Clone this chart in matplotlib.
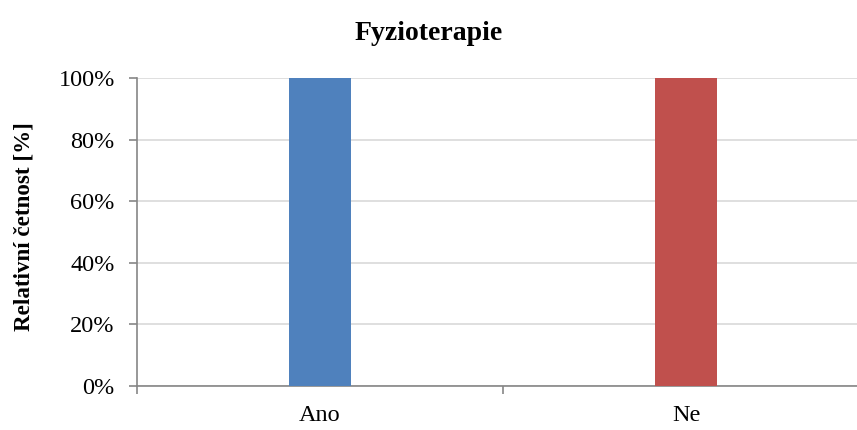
import matplotlib
matplotlib.use("Agg")
import matplotlib.pyplot as plt
from matplotlib.ticker import FixedLocator, PercentFormatter

categories = ["Ano", "Ne"]
values = [100, 100]
colors = ["#4F81BD", "#C0504D"]
yticks = [0, 20, 40, 60, 80, 100]

plt.rcParams['font.family'] = ['Liberation Serif', 'DejaVu Serif']

fig = plt.figure(figsize=(8.57, 4.30), dpi=100)
ax = fig.add_axes([137/857, 44/430, 732/857, 308/430])

x = list(range(len(categories)))
ax.bar(x, values, width=0.17, color=colors, zorder=3)
ax.set_xlim(-0.5, len(categories) - 0.5)
ax.set_ylim(0, 100)

ax.set_yticks(yticks)
ax.yaxis.set_major_formatter(PercentFormatter(decimals=0))
ax.grid(axis='y', color='#d9d9d9', linewidth=1.2, zorder=0)

ax.set_xticks(x)
ax.set_xticklabels(categories)
ax.xaxis.set_minor_locator(FixedLocator([i - 0.5 for i in range(len(categories) + 1)]))
ax.tick_params(axis='x', which='major', length=0, pad=14, labelsize=17.5)
ax.tick_params(axis='x', which='minor', length=6, color='#868686', width=1.2, direction='out')
ax.tick_params(axis='y', length=6, color='#868686', width=1.2, labelsize=17.5, pad=10)

for s in ['top', 'right']:
    ax.spines[s].set_visible(False)
for s in ['left', 'bottom']:
    ax.spines[s].set_color('#868686')
    ax.spines[s].set_linewidth(1.2)

fig.text(24/857, 1 - 227/430, "Relativní četnost [%]", rotation=90, ha='center', va='center',
         fontsize=16.6, fontweight='bold')
fig.text(0.5, 1 - 33/430, "Fyzioterapie", ha='center', va='center', fontsize=20, fontweight='bold')

fig.savefig("out.png", dpi=100)
